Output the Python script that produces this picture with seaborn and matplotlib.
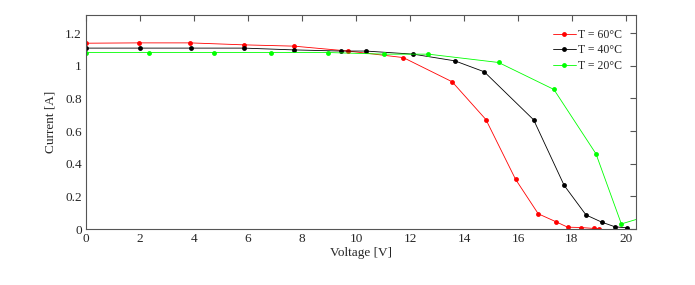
import numpy as np
import pandas as pd
import seaborn as sns
import matplotlib.pyplot as plt

# I-V curves
v_60 = [0, 1.96, 3.85, 5.83, 7.7, 9.71, 11.75, 13.56, 14.81, 15.91, 16.75, 17.41, 17.84, 18.33, 18.83, 19.0]
i_60 = [1.138, 1.14, 1.14, 1.128, 1.12, 1.09, 1.05, 0.902, 0.671, 0.305, 0.094, 0.045, 0.012, 0.01, 0.004, 0.003]

v_40 = [0, 2.0, 3.9, 5.85, 7.7, 9.43, 10.36, 12.12, 13.66, 14.75, 16.58, 17.71, 18.52, 19.1, 19.6, 20.04]
i_40 = [1.108, 1.108, 1.108, 1.108, 1.097, 1.09, 1.09, 1.071, 1.03, 0.963, 0.669, 0.268, 0.087, 0.043, 0.014, 0.008]

v_20 = [0, 2.31, 4.74, 6.84, 8.97, 11.05, 12.68, 15.28, 17.33, 18.89, 19.83, 20.6]
i_20 = [1.081, 1.081, 1.081, 1.081, 1.081, 1.071, 1.071, 1.02, 0.855, 0.461, 0.032, 0.07]

labels = ["T = 60°C", "T = 40°C", "T = 20°C"]
colors = ["#ff0000", "#000000", "#00ff00"]

df = pd.concat([
    pd.DataFrame({"V": v_60, "I": i_60, "T": labels[0]}),
    pd.DataFrame({"V": v_40, "I": i_40, "T": labels[1]}),
    pd.DataFrame({"V": v_20, "I": i_20, "T": labels[2]}),
])

sns.set_style("white")
plt.rcParams["font.family"] = ["Liberation Serif", "DejaVu Serif"]
plt.rcParams["font.size"] = 9.5

fig = plt.figure(figsize=(6.95, 2.85), dpi=100)
ax = fig.add_axes([0.124, 0.196, 0.791, 0.751])

sns.lineplot(data=df, x="V", y="I", hue="T", palette=colors, sort=False,
             marker="o", markersize=3.5, markeredgewidth=0, linewidth=0.6,
             ax=ax)

ax.set_xlim(0, 20.37)
ax.set_ylim(0, 1.31)
ax.set_xticks(np.arange(0, 21, 2))
ax.set_yticks([0, 0.2, 0.4, 0.6, 0.8, 1, 1.2])
ax.set_yticklabels(["0", "0.2", "0.4", "0.6", "0.8", "1", "1.2"])
ax.set_xlabel("Voltage [V]", fontsize=9.5, labelpad=1)
ax.set_ylabel("Current [A]", fontsize=9.5, labelpad=6)

ax.tick_params(direction="in", length=4, width=0.8, color="#555555",
               top=True, right=True, labelsize=9.5, pad=3)
for s in ax.spines.values():
    s.set_color("#555555")
    s.set_linewidth(0.8)

ax.legend(loc="upper right", frameon=False, fontsize=8.5, handlelength=1.95,
          labelspacing=0.27, borderaxespad=0.8, handletextpad=0.15, title=None)

fig.savefig("out.png", dpi=100)
